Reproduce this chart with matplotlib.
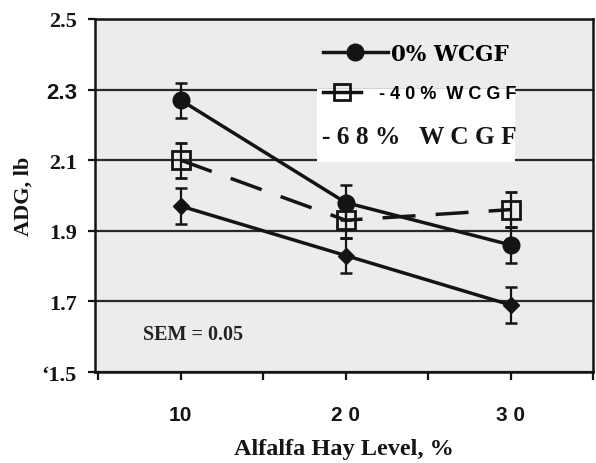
# ADG vs alfalfa hay level, three WCGF levels, with SEM error bars
import matplotlib
matplotlib.use("Agg")
import matplotlib.pyplot as plt
from matplotlib.lines import Line2D
from matplotlib.patches import Rectangle
from matplotlib.font_manager import FontProperties

# ======================== Data ========================
hay_level = [10, 20, 30]
adg_0 = [2.27, 1.98, 1.86]
adg_40 = [2.10, 1.93, 1.96]
adg_68 = [1.97, 1.83, 1.69]
sem = 0.05

x_ticks = [5, 10, 15, 20, 25, 30, 35]
x_tick_labels = ["", "10", "", "2 0", "", "3 0", ""]
y_ticks = [1.5, 1.7, 1.9, 2.1, 2.3, 2.5]
y_tick_labels = ["\u20181.5", "1.7", "1.9", "2.1", "2.3", "2.5"]

# ======================== Fonts ========================
serif = ["Liberation Serif", "DejaVu Serif"]
narrow = ["Liberation Sans Narrow", "Liberation Sans", "DejaVu Sans"]
ink = "#141414"

fig = plt.figure(figsize=(5.96, 4.64), dpi=100)
fig.patch.set_facecolor("white")
ax = fig.add_axes([0.1594, 0.196, 0.8356, 0.761])
ax.set_facecolor("#ececec")
ax.set_axisbelow(True)

err_kw = dict(elinewidth=1.6, capsize=4.3, capthick=1.8, ecolor=ink)
ax.errorbar(hay_level, adg_0, yerr=sem, color=ink, lw=2.5, marker="o", ms=12, zorder=4, **err_kw)
ax.errorbar(hay_level, adg_40, yerr=sem, color=ink, lw=2.5, ls=(0, (9.5, 5.8)),
            marker="s", ms=13, mfc="none", mec=ink, mew=2, zorder=3, **err_kw)
ax.errorbar(hay_level, adg_68, yerr=sem, color=ink, lw=2.5, marker="D", ms=8, zorder=4, **err_kw)

ax.set_xlim(4.8, 35)
ax.set_ylim(1.5, 2.5)
ax.set_xticks(x_ticks)
ax.set_xticklabels(x_tick_labels, family=narrow, fontweight="bold", fontsize=15)
ax.set_yticks(y_ticks)
ax.set_yticklabels(y_tick_labels, family=serif, fontweight="bold", fontsize=16)
# the 2.3 label is set in a sans face in the original
ax.get_yticklabels()[4].set_family(narrow)
ax.tick_params(axis="x", direction="out", length=6, width=1.6, pad=18, colors=ink)
ax.tick_params(axis="y", direction="out", length=5, width=1.6, pad=8, colors=ink)
ax.grid(axis="y", color="#2a2a2a", lw=1.6)
for s in ax.spines.values():
    s.set_linewidth(1.8)
    s.set_color(ink)

ax.set_xlabel("Alfalfa Hay Level, %", family=serif, fontweight="bold", fontsize=17.5, labelpad=10, color=ink)
ax.set_ylabel("ADG, lb", family=serif, fontweight="bold", fontsize=16, labelpad=6, color=ink)

# white patch behind the lower legend rows
ax.add_patch(Rectangle((0.4458, 0.595), 0.3976, 0.207, transform=ax.transAxes,
                       facecolor="white", edgecolor="none", zorder=1))

h0 = Line2D([], [], color=ink, lw=2.5, marker="o", ms=12)
leg1 = ax.legend([h0], ["0% WCGF"], loc="center left", bbox_to_anchor=(0.458, 0.901),
                 frameon=False, handlelength=3.0, handletextpad=0.15, borderpad=0, borderaxespad=0,
                 prop=FontProperties(family=["DejaVu Serif"], weight="bold", size=15.5))
ax.add_artist(leg1)

h40 = Line2D([], [], color=ink, lw=2.5, marker="s", ms=12, mfc="none", mec=ink, mew=2)
leg2 = ax.legend([h40], ["- 4 0 %  W C G F"], loc="center left", bbox_to_anchor=(0.458, 0.7875),
                 frameon=False, handlelength=2.1, handletextpad=1.0, borderpad=0, borderaxespad=0,
                 prop=FontProperties(family=narrow, weight="bold", size=13))
leg2.set_zorder(5)

ax.text(0.455, 0.666, "- 6 8 %   W C G F", transform=ax.transAxes, va="center", ha="left",
        family=serif, fontweight="bold", fontsize=18.3, color=ink, zorder=5)

ax.text(0.0964, 0.1076, "SEM = 0.05", transform=ax.transAxes, va="center", ha="left",
        family=serif, fontweight="bold", fontsize=14.5, color="#222222", zorder=5)

fig.savefig("out.png", dpi=100)
